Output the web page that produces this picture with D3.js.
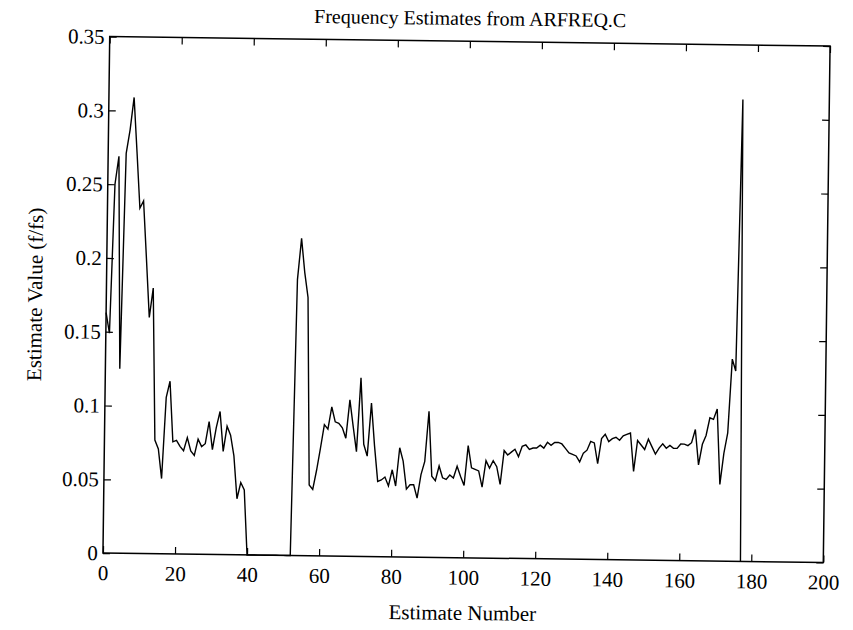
<!DOCTYPE html>
<html>
<head>
<meta charset="utf-8">
<script src="https://cdn.jsdelivr.net/npm/d3@7"></script>
<style>
  html, body { margin: 0; padding: 0; background: #fff; }
  svg { display: block; }
  text { font-family: "Liberation Serif", "Times New Roman", serif; fill: #000; }
</style>
</head>
<body>
<svg id="chart" width="853" height="630"></svg>
<script>
// ---- data ----
const title = "Frequency Estimates from ARFREQ.C";
const xLabel = "Estimate Number";
const yLabel = "Estimate Value (f/fs)";

const estimateValues = [
  0.163, 0.149, 0.250, 0.269, 0.125, 0.271, 0.287, 0.309, 0.272, 0.234,
  0.239, 0.200, 0.160, 0.180, 0.077, 0.071, 0.051, 0.106, 0.117, 0.076,
  0.077, 0.073, 0.070, 0.079, 0.070, 0.067, 0.078, 0.073, 0.075, 0.090,
  0.071, 0.086, 0.097, 0.070, 0.087, 0.081, 0.067, 0.038, 0.049, 0.044,
  0, 0, 0, 0, 0, 0, 0, 0, 0, 0,
  0, 0, 0, 0.187, 0.215, 0.192, 0.175, 0.048, 0.045, 0.058,
  0.073, 0.089, 0.086, 0.101, 0.091, 0.090, 0.087, 0.080, 0.106, 0.088,
  0.071, 0.121, 0.076, 0.068, 0.104, 0.075, 0.051, 0.052, 0.054, 0.048,
  0.059, 0.048, 0.074, 0.065, 0.046, 0.049, 0.049, 0.040, 0.056, 0.065,
  0.099, 0.055, 0.052, 0.062, 0.054, 0.053, 0.056, 0.054, 0.062, 0.055,
  0.049, 0.076, 0.061, 0.060, 0.059, 0.048, 0.066, 0.061, 0.066, 0.062,
  0.050, 0.073, 0.070, 0.072, 0.074, 0.069, 0.076, 0.077, 0.074, 0.075,
  0.075, 0.077, 0.075, 0.079, 0.077, 0.079, 0.079, 0.078, 0.075, 0.072,
  0.071, 0.070, 0.066, 0.072, 0.074, 0.080, 0.079, 0.065, 0.082, 0.085,
  0.080, 0.082, 0.083, 0.081, 0.084, 0.085, 0.086, 0.060, 0.081, 0.078,
  0.075, 0.082, 0.077, 0.072, 0.076, 0.079, 0.076, 0.078, 0.076, 0.076,
  0.079, 0.079, 0.078, 0.080, 0.089, 0.065, 0.079, 0.085, 0.097, 0.096,
  0.103, 0.052, 0.073, 0.087, 0.137, 0.129, 0.313, 0
];

const xDomain = [0, 200];
const yDomain = [0, 0.35];
const xTicks = [0, 20, 40, 60, 80, 100, 120, 140, 160, 180, 200];
const xTickLabels = ["0", "20", "40", "60", "80", "100", "120", "140", "160", "180", "200"];
const yTicks = [0, 0.05, 0.1, 0.15, 0.2, 0.25, 0.3, 0.35];
const yTickLabels = ["0", "0.05", "0.1", "0.15", "0.2", "0.25", "0.3", "0.35"];

// ---- layout ----
const W = 853, H = 630;
const margin = { left: 106.3, top: 41.3 };
const pw = 720.4, ph = 516.5;
const tilt = 0.75; // the scanned page is slightly rotated

const svg = d3.select("#chart");
const root = svg.append("g").attr("transform", `rotate(${tilt}, 467, 300)`);
const g = root.append("g").attr("transform", `translate(${margin.left},${margin.top})`);

const x = d3.scaleLinear().domain(xDomain).range([0, pw]);
const y = d3.scaleLinear().domain(yDomain).range([ph, 0]);

const fs = 21;
const tickLen = 7;

// bottom axis with labels
const xAxis = d3.axisBottom(x).tickValues(xTicks)
  .tickFormat((d, i) => xTickLabels[i])
  .tickSizeInner(-tickLen).tickSizeOuter(0).tickPadding(12);
const gx = g.append("g").attr("transform", `translate(0,${ph})`).call(xAxis);
// left axis with labels
const yAxis = d3.axisLeft(y).tickValues(yTicks)
  .tickFormat((d, i) => yTickLabels[i])
  .tickSizeInner(-tickLen).tickSizeOuter(0).tickPadding(5);
const gy = g.append("g").call(yAxis);
// top and right axes: ticks only
const gt = g.append("g").call(d3.axisTop(x).tickValues(xTicks).tickFormat("")
  .tickSizeInner(-tickLen).tickSizeOuter(0));
const gr = g.append("g").attr("transform", `translate(${pw},0)`)
  .call(d3.axisRight(y).tickValues(yTicks).tickFormat("")
  .tickSizeInner(-tickLen).tickSizeOuter(0));

[gx, gy, gt, gr].forEach(a => {
  a.select(".domain").remove();
  a.selectAll(".tick line").attr("stroke", "#000").attr("stroke-width", 1.2);
  a.selectAll(".tick text").style("font-size", fs + "px")
    .style("font-family", '"Liberation Serif", "Times New Roman", serif').attr("fill", "#000");
});

// frame
g.append("rect").attr("x", 0).attr("y", 0).attr("width", pw).attr("height", ph)
  .attr("fill", "none").attr("stroke", "#000").attr("stroke-width", 1.5);

// data line
const line = d3.line().x((d, i) => x(i)).y(d => y(d));
g.append("path").datum(estimateValues)
  .attr("d", line).attr("fill", "none")
  .attr("stroke", "#000").attr("stroke-width", 1.4).attr("stroke-linejoin", "miter");

// title and axis labels
g.append("text").attr("x", pw / 2).attr("y", 25 - margin.top)
  .attr("text-anchor", "middle").style("font-size", "20px").text(title);
g.append("text").attr("x", pw / 2).attr("y", 620 - margin.top)
  .attr("text-anchor", "middle").style("font-size", fs + "px").text(xLabel);
g.append("text")
  .attr("transform", `translate(${42 - margin.left},${300 - margin.top}) rotate(-90)`)
  .attr("text-anchor", "middle").style("font-size", fs + "px").text(yLabel);
</script>
</body>
</html>
